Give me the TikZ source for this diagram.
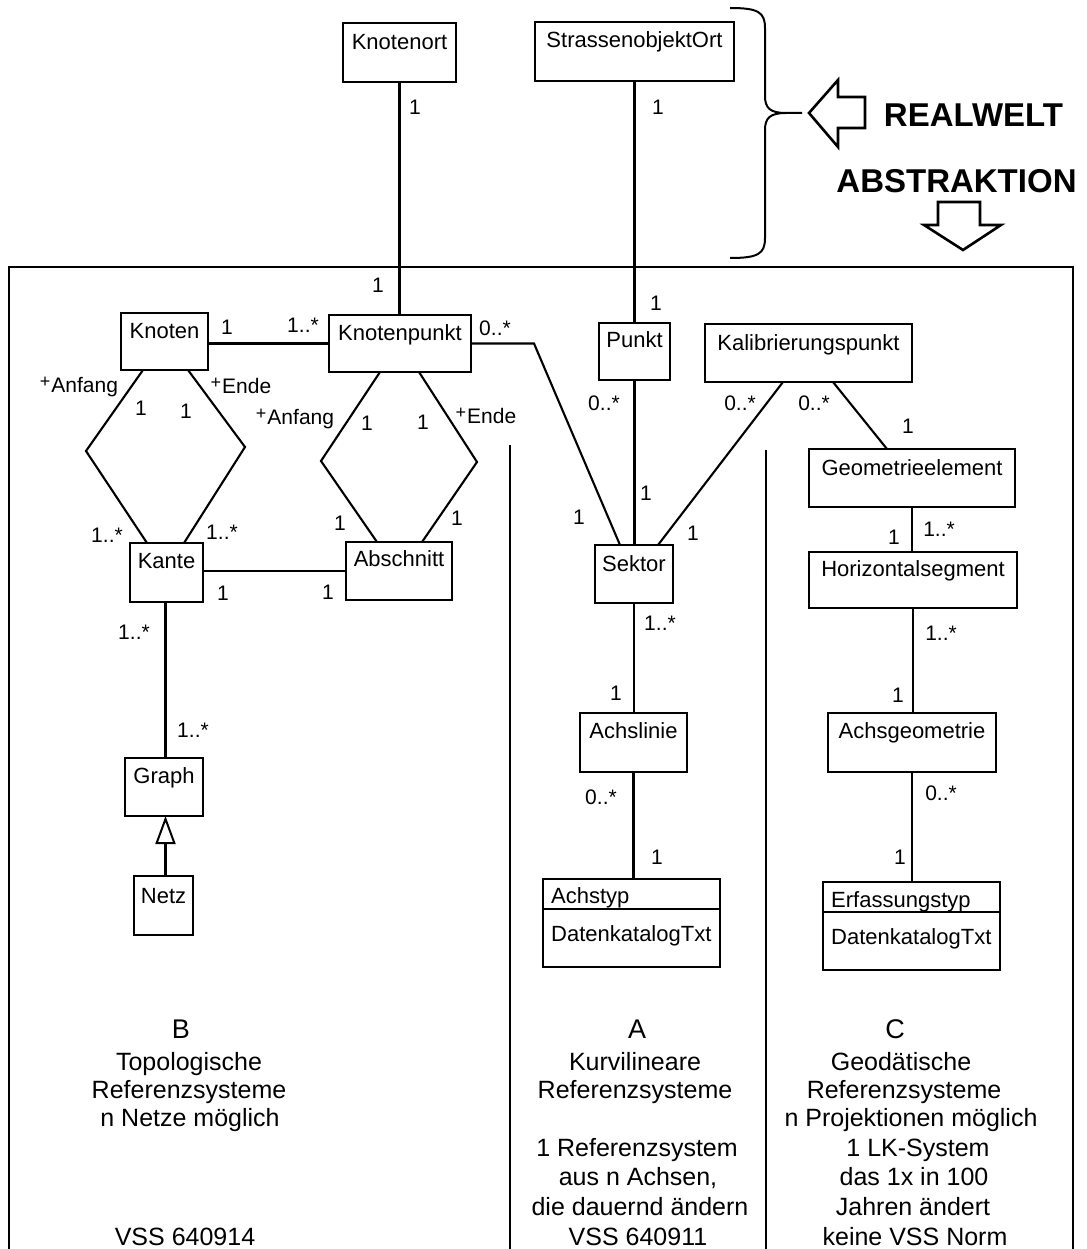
\documentclass[tikz,border=0pt]{standalone}
\usepackage{fontspec}
\setmainfont{Liberation Sans}
\usetikzlibrary{arrows.meta,calc}
\begin{document}
\begin{tikzpicture}[x=1pt,y=-1pt,
  box/.style 2 args={draw, line width=2.4pt, minimum width=#1pt, minimum height=#2pt, inner sep=0pt, outer sep=0pt},
  nm/.style={font=\fontsize{22}{26}\selectfont, anchor=base, inner sep=0pt},
  ml/.style={font=\fontsize{21}{24}\selectfont, inner sep=0pt},
  role/.style={font=\fontsize{21}{24}\selectfont, anchor=base, inner sep=0pt},
  bt/.style={font=\fontsize{25}{29}\selectfont, anchor=base, inner sep=0pt},
  letter/.style={font=\fontsize{27}{30}\selectfont, anchor=base, inner sep=0pt},
  big/.style={font=\fontsize{33}{36}\selectfont\bfseries, anchor=base, inner sep=0pt},
  con/.style={line width=2.1pt},
  frame/.style={line width=1.4pt},
  hollow/.style={line width=2.6pt, line join=miter}
]
\useasboundingbox (0,0) rectangle (1086,1249);

% frame and dividers
\draw[frame] (9,1249) -- (9,267) -- (1073,267) -- (1073,1249);
\draw[frame] (510,445) -- (510,1249);
\draw[frame] (766,450) -- (766,1249);

% boxes
\node[box={113}{59}] (kort) at (399.5,52.5) {};
\node[box={199}{59}] (sort) at (634.5,51.5) {};
\node[box={87}{57}] (knoten) at (164.5,341.5) {};
\node[box={142}{57}] (kp) at (400,343.5) {};
\node[box={71}{57}] (punkt) at (634.5,351.5) {};
\node[box={207}{58}] (kal) at (808.5,353) {};
\node[box={73}{59}] (kante) at (166.5,572.5) {};
\node[box={106}{58}] (absch) at (399,571) {};
\node[box={78}{58}] (sektor) at (634,574) {};
\node[box={206}{58}] (geo) at (912,478) {};
\node[box={208}{56}] (hor) at (913,580) {};
\node[box={78}{58}] (graph) at (164,787) {};
\node[box={59}{59}] (netz) at (163.5,905.5) {};
\node[box={107}{59}] (achsl) at (633.5,742.5) {};
\node[box={168}{59}] (achsg) at (912,742.5) {};
\node[box={177}{88}] (achstyp) at (631.5,923) {};
\node[box={177}{88}] (erf) at (911.5,926) {};

% box names
\node[nm] (kort-t) at ($(kort.north)+(0,27)$) {Knotenort};
\node[nm] (sort-t) at ($(sort.north)+(0,26)$) {StrassenobjektOrt};
\node[nm] (knoten-t) at ($(knoten.north)+(0,25)$) {Knoten};
\node[nm] (kp-t) at ($(kp.north)+(0,25)$) {Knotenpunkt};
\node[nm] (punkt-t) at ($(punkt.north)+(0,24)$) {Punkt};
\node[nm] (kal-t) at ($(kal.north)+(0,26)$) {Kalibrierungspunkt};
\node[nm] (kante-t) at ($(kante.north)+(0,25)$) {Kante};
\node[nm] (absch-t) at ($(absch.north)+(0,24)$) {Abschnitt};
\node[nm] (sektor-t) at ($(sektor.north)+(0,26)$) {Sektor};
\node[nm] (geo-t) at ($(geo.north)+(0,26)$) {Geometrieelement};
\node[nm] (hor-t) at ($(hor.north)+(0,24)$) {Horizontalsegment};
\node[nm] (graph-t) at ($(graph.north)+(0,25)$) {Graph};
\node[nm] (netz-t) at ($(netz.north)+(0,27)$) {Netz};
\node[nm] (achsl-t) at ($(achsl.north)+(0,25)$) {Achslinie};
\node[nm] (achsg-t) at ($(achsg.north)+(0,25)$) {Achsgeometrie};
\draw[line width=2.4pt] ($(achstyp.north west)+(0,30)$) -- ($(achstyp.north east)+(0,30)$);
\draw[line width=2.4pt] ($(erf.north west)+(0,30)$) -- ($(erf.north east)+(0,30)$);
\node[nm, anchor=base west] (achstyp-t) at ($(achstyp.north west)+(8,24)$) {Achstyp};
\node[nm, anchor=base west] (achstyp-a) at ($(achstyp.north west)+(8,62)$) {DatenkatalogTxt};
\node[nm, anchor=base west] (erf-t) at ($(erf.north west)+(8,25)$) {Erfassungstyp};
\node[nm, anchor=base west] (erf-a) at ($(erf.north west)+(8,62)$) {DatenkatalogTxt};

% bend coordinates
\coordinate (kpbend) at (534,343.5);
\coordinate (d1l) at (86,451);
\coordinate (d1r) at (245,447);
\coordinate (d2l) at (321,461);
\coordinate (d2r) at (477,462);

% connectors
\draw[con] (kort.south) -- (kort.south |- kp.north);
\draw[con] (sort.south) -- (punkt.north);
\draw[con] (kp.west -| knoten.east) -- (kp.west);
\draw[con] (kp.east) -- (kpbend) -- ($(sektor.north west)+(25,0)$);
\draw[con] (punkt.south) -- (punkt.south |- sektor.north);
\draw[con] ($(kal.south west)+(78,0)$) -- ($(sektor.north west)+(63,0)$);
\draw[con] ($(kal.south west)+(128,0)$) -- ($(geo.north west)+(78,0)$);
\draw[con] (geo.south) -- (geo.south |- hor.north);
\draw[con] (hor.south) -- (hor.south |- achsg.north);
\draw[con] (achsg.south) -- (achsg.south |- erf.north);
\draw[con] (sektor.south) -- (sektor.south |- achsl.north);
\draw[con] (achsl.south) -- (achsl.south |- achstyp.north);
\draw[con] (absch.west -| kante.east) -- (absch.west);
\draw[con] ($(kante.south)+(-1,0)$) -- ($(kante.south |- graph.north)+(-1,0)$);
\draw[con, -{Triangle[open, width=20pt, length=28pt, line width=2pt]}] ($(netz.north)+(2,0)$) -- ($(netz.north |- graph.south)+(2,0)$);
\draw[con] ($(knoten.south west)+(22,0)$) -- (d1l) -- ($(kante.north west)+(17,0)$);
\draw[con] ($(knoten.south west)+(67,0)$) -- (d1r) -- ($(kante.north west)+(54,0)$);
\draw[con] ($(kp.south west)+(51,0)$) -- (d2l) -- ($(absch.north west)+(31,0)$);
\draw[con] ($(kp.south west)+(90,0)$) -- (d2r) -- ($(absch.north west)+(76,0)$);

% multiplicities
\node[ml] (m1) at (415,107) {1};
\node[ml] (m2) at (658,107) {1};
\node[ml] (m3) at (378,285) {1};
\node[ml] (m4) at (656,303) {1};
\node[ml] (m5) at (227,327) {1};
\node[ml] (m6) at (303,325) {1..*};
\node[ml] (m7) at (495,328) {0..*};
\node[ml] (m8) at (141,408) {1};
\node[ml] (m9) at (186,411) {1};
\node[ml] (m10) at (367,423) {1};
\node[ml] (m11) at (423,422) {1};
\node[ml] (m12) at (107,535) {1..*};
\node[ml] (m13) at (222,532) {1..*};
\node[ml] (m14) at (340,523) {1};
\node[ml] (m15) at (457,518) {1};
\node[ml] (m16) at (223,593) {1};
\node[ml] (m17) at (328,592) {1};
\node[ml] (m18) at (604,403) {0..*};
\node[ml] (m19) at (740,403) {0..*};
\node[ml] (m20) at (814,403) {0..*};
\node[ml] (m21) at (908,426) {1};
\node[ml] (m22) at (646,493) {1};
\node[ml] (m23) at (579,517) {1};
\node[ml] (m24) at (693,533) {1};
\node[ml] (m25) at (894,537) {1};
\node[ml] (m26) at (939,529) {1..*};
\node[ml] (m27) at (660,623) {1..*};
\node[ml] (m28) at (616,693) {1};
\node[ml] (m29) at (941,633) {1..*};
\node[ml] (m30) at (898,695) {1};
\node[ml] (m31) at (601,797) {0..*};
\node[ml] (m32) at (657,857) {1};
\node[ml] (m33) at (941,793) {0..*};
\node[ml] (m34) at (900,857) {1};
\node[ml] (m35) at (134,632) {1..*};
\node[ml] (m36) at (193,730) {1..*};

% roles
\newcommand{\rplus}{\raisebox{5pt}{\fontsize{18}{18}\selectfont+}\kern1pt}
\node[role] (r1) at (79,392) {\rplus Anfang};
\node[role] (r2) at (241,393) {\rplus Ende};
\node[role] (r3) at (295,424) {\rplus Anfang};
\node[role] (r4) at (486,423) {\rplus Ende};

% bottom texts
\node[letter] (lb) at (181,1038) {B};
\node[letter] (la) at (637,1038) {A};
\node[letter] (lc) at (895,1038) {C};
\node[bt] (b1) at (189,1070) {Topologische};
\node[bt] (b2) at (189,1098) {Referenzsysteme};
\node[bt] (b3) at (190,1126) {n Netze möglich};
\node[bt] (b4) at (185,1245) {VSS 640914};
\node[bt] (a1) at (635,1070) {Kurvilineare};
\node[bt] (a2) at (635,1098) {Referenzsysteme};
\node[bt] (a3) at (637,1156) {1 Referenzsystem};
\node[bt] (a4) at (638,1185) {aus n Achsen,};
\node[bt] (a5) at (640,1215) {die dauernd ändern};
\node[bt] (a6) at (638,1245) {VSS 640911};
\node[bt] (c1) at (901,1070) {Geodätische};
\node[bt] (c2) at (904,1098) {Referenzsysteme};
\node[bt] (c3) at (911,1126) {n Projektionen möglich};
\node[bt] (c4) at (918,1156) {1 LK-System};
\node[bt] (c5) at (914,1185) {das 1x in 100};
\node[bt] (c6) at (913,1215) {Jahren ändert};
\node[bt] (c7) at (915,1245) {keine VSS Norm};

% brace
\draw[line width=2pt] (730,8) .. controls (758,8) and (765,12) .. (765,28) -- (765,96)
  .. controls (765,108) and (770,113) .. (786,113) -- (802,113);
\draw[line width=2pt] (730,258) .. controls (758,258) and (765,254) .. (765,238) -- (765,130)
  .. controls (765,118) and (770,113) .. (786,113);

% hollow arrows and labels
\draw[hollow] (809,113) -- (838,80) -- (838,97) -- (865,97) -- (865,128) -- (838,128) -- (838,147) -- cycle;
\node[big] (rw) at (973.5,127) {REALWELT};
\node[big] (abs) at (956.5,193) {ABSTRAKTION};
\draw[hollow] (938,202) -- (980,202) -- (980,225) -- (1001,225) -- (963,250) -- (924,225) -- (938,225) -- cycle;
\end{tikzpicture}
\end{document}
